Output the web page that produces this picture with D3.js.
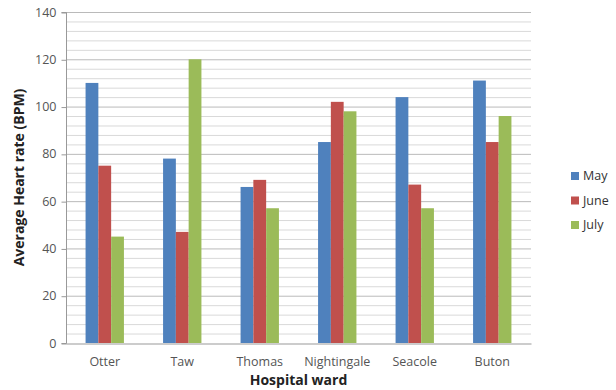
<!DOCTYPE html>
<html>
<head>
<meta charset="utf-8">
<script src="https://cdn.jsdelivr.net/npm/d3@7"></script>
<style>
  html, body { margin: 0; padding: 0; background: #fff; }
  svg { display: block; font-family: "Open Sans", "Liberation Sans", sans-serif; }
</style>
</head>
<body>
<svg id="chart" width="616" height="390"></svg>
<script>
// Average heart rate per hospital ward, by month
const wards = ["Otter", "Taw", "Thomas", "Nightingale", "Seacole", "Buton"];
const months = ["May", "June", "July"];
const mayValues = [110, 78, 66, 85, 104, 111];
const juneValues = [75, 47, 69, 102, 67, 85];
const julyValues = [45, 120, 57, 98, 57, 96];
const yTicks = [0, 20, 40, 60, 80, 100, 120, 140];
const colors = ["#4F81BD", "#C0504D", "#9BBB59"];

const seriesValues = [mayValues, juneValues, julyValues];
const rows = wards.map((w, i) => ({ ward: w, values: months.map((m, j) => ({ month: m, value: seriesValues[j][i] })) }));

const svg = d3.select("#chart");
const margin = { left: 66, right: 531, top: 12, bottom: 343 };

const x0 = d3.scaleBand().domain(wards).range([margin.left, margin.right]);
const x1 = d3.scaleBand().domain(months).range([0, x0.bandwidth() * 0.495]);
const y = d3.scaleLinear().domain([0, 140]).range([margin.bottom, margin.top]);

// minor gridlines every 4 units, major every 20
const minor = d3.range(4, 141, 4).filter(v => v % 20 !== 0);
svg.append("g").selectAll("line").data(minor).join("line")
  .attr("x1", margin.left).attr("x2", margin.right)
  .attr("y1", d => y(d) + 0.5).attr("y2", d => y(d) + 0.5)
  .attr("stroke", "#d9d9d9").attr("stroke-width", 1);
svg.append("g").selectAll("line").data(yTicks.filter(v => v > 0)).join("line")
  .attr("x1", margin.left).attr("x2", margin.right)
  .attr("y1", d => y(d) + 0.5).attr("y2", d => y(d) + 0.5)
  .attr("stroke", "#bababa").attr("stroke-width", 1);

// bars
const groups = svg.append("g").selectAll("g").data(rows).join("g")
  .attr("transform", d => `translate(${x0(d.ward) + (x0.bandwidth() - x1.range()[1]) / 2},0)`);
groups.selectAll("rect").data(d => d.values).join("rect")
  .attr("x", d => x1(d.month))
  .attr("width", x1.bandwidth())
  .attr("y", d => y(d.value))
  .attr("height", d => y(0) - y(d.value))
  .attr("fill", (d, i) => colors[i]);

// y axis
const yAxis = d3.axisLeft(y).tickValues(yTicks).tickSize(5).tickPadding(5);
const gy = svg.append("g").attr("transform", `translate(${margin.left + 0.5},0)`).call(yAxis);
gy.select(".domain").attr("stroke", "#999").attr("d", `M-5,${margin.top + 0.5}H0V${margin.bottom + 0.5}H-5`);
gy.selectAll(".tick line").attr("stroke", "#999").attr("transform", "translate(0,0.5)");
gy.selectAll(".tick text").attr("fill", "#555").style("font-size", "12.5px")
  .style("font-family", "'Open Sans', sans-serif");

// x axis
const xAxis = d3.axisBottom(x0).tickSize(0).tickPadding(14);
const gx = svg.append("g").attr("transform", `translate(0,${margin.bottom + 0.5})`).call(xAxis);
gx.select(".domain").attr("stroke", "#999");
gx.selectAll(".tick text").attr("fill", "#555").style("font-size", "12.5px")
  .style("font-family", "'Open Sans', sans-serif");

// axis titles
svg.append("text").attr("x", (margin.left + margin.right) / 2).attr("y", 385)
  .attr("text-anchor", "middle").attr("fill", "#222")
  .style("font-size", "14px").style("font-weight", "bold").text("Hospital ward");
svg.append("text").attr("transform", `translate(24,${(margin.top + margin.bottom) / 2}) rotate(-90)`)
  .attr("text-anchor", "middle").attr("fill", "#222")
  .style("font-size", "14px").style("font-weight", "bold").text("Average Heart rate (BPM)");

// legend
const legend = svg.append("g").selectAll("g").data(months).join("g")
  .attr("transform", (d, i) => `translate(571,${176 + i * 24.5})`);
legend.append("rect").attr("x", 0).attr("y", -4).attr("width", 8).attr("height", 8)
  .attr("fill", (d, i) => colors[i]);
legend.append("text").attr("x", 12).attr("y", 0).attr("dy", "0.35em")
  .attr("fill", "#333").style("font-size", "12.5px").text(d => d);
</script>
</body>
</html>
